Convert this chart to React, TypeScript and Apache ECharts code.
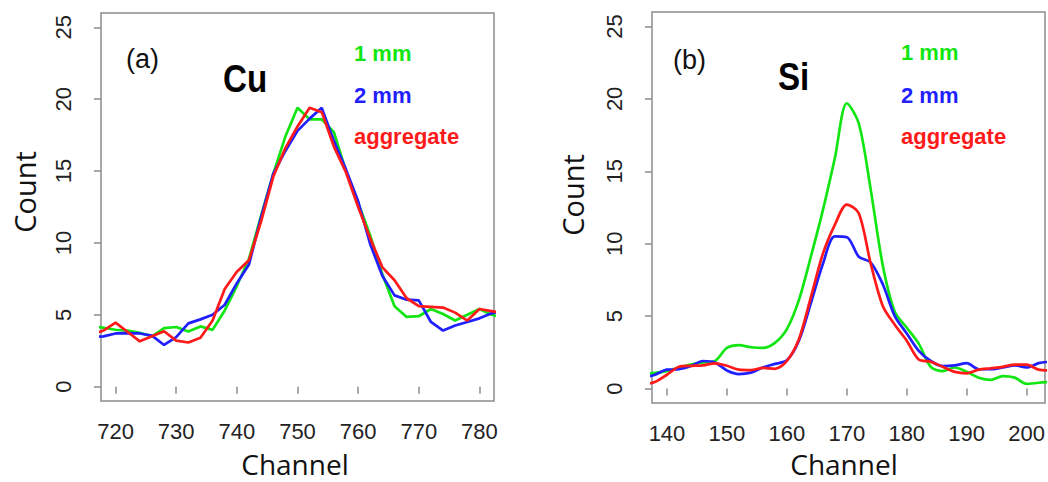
import React, { useEffect, useRef } from "react";
import * as echarts from "echarts";

// ---- Panel (a): Cu ----
const cuChannels = [716, 718, 720, 722, 724, 726, 728, 730, 732, 734, 736, 738, 740, 742, 744, 746, 748, 750, 752, 754, 756, 758, 760, 762, 764, 766, 768, 770, 772, 774, 776, 778, 780, 782, 784];
const cu1mm = [4.2, 4.1, 3.96, 3.9, 3.75, 3.5, 4.07, 4.15, 3.84, 4.19, 3.95, 5.3, 7.0, 8.9, 11.9, 14.8, 17.4, 19.4, 18.6, 18.6, 17.7, 15.0, 12.8, 10.5, 7.8, 5.6, 4.85, 4.9, 5.4, 5.05, 4.6, 5.0, 5.4, 5.0, 4.8];
const cu2mm = [3.45, 3.5, 3.7, 3.72, 3.7, 3.55, 2.9, 3.45, 4.4, 4.68, 5.0, 5.7, 7.2, 8.5, 11.8, 14.8, 16.4, 17.8, 18.65, 19.4, 17.1, 15.1, 12.9, 9.9, 7.7, 6.35, 6.05, 6.0, 4.5, 3.9, 4.25, 4.5, 4.75, 5.1, 5.3];
const cuAggregate = [3.6, 3.9, 4.45, 3.8, 3.15, 3.5, 3.85, 3.2, 3.07, 3.4, 4.6, 6.8, 8.0, 8.8, 11.5, 14.6, 16.6, 18.1, 19.4, 19.1, 16.7, 14.9, 12.5, 10.3, 8.3, 7.4, 6.15, 5.6, 5.55, 5.5, 5.15, 4.6, 5.4, 5.25, 5.1];
const cuTicks = [720, 730, 740, 750, 760, 770, 780];

// ---- Panel (b): Si ----
const siChannels = [136, 138, 140, 142, 144, 146, 148, 150, 152, 154, 156, 158, 160, 162, 164, 166, 168, 170, 172, 174, 176, 178, 180, 182, 184, 186, 188, 190, 192, 194, 196, 198, 200, 202, 204];
const si1mm = [1.0, 1.08, 1.2, 1.45, 1.66, 1.8, 1.9, 2.8, 2.99, 2.85, 2.8, 3.15, 4.1, 6.1, 9.1, 12.3, 15.9, 19.7, 18.3, 13.7, 8.5, 5.3, 4.2, 3.1, 1.5, 1.2, 1.45, 1.15, 0.75, 0.6, 0.85, 0.75, 0.32, 0.4, 0.45];
const si2mm = [0.75, 0.95, 1.3, 1.33, 1.55, 1.9, 1.8, 1.25, 1.0, 1.1, 1.45, 1.7, 1.95, 3.3, 5.9, 8.6, 10.5, 10.45, 9.1, 8.7, 7.2, 5.0, 3.8, 2.6, 1.9, 1.55, 1.6, 1.75, 1.33, 1.33, 1.45, 1.6, 1.45, 1.75, 1.85];
const siAggregate = [0.3, 0.45, 0.95, 1.5, 1.57, 1.6, 1.74, 1.57, 1.3, 1.27, 1.42, 1.36, 1.9, 3.4, 6.3, 9.3, 11.3, 12.7, 12.1, 8.6, 5.7, 4.4, 3.3, 2.0, 1.85, 1.5, 1.15, 1.05, 1.3, 1.4, 1.5, 1.65, 1.65, 1.3, 1.25];
const siTicks = [140, 150, 160, 170, 180, 190, 200];

const countTicks = [0, 5, 10, 15, 20, 25];
const seriesNames = ["1 mm", "2 mm", "aggregate"];

const GREEN = "#12e612";
const BLUE = "#1f1fff";
const RED = "#ff1a1a";
const BOX = "#8c8c8c";
const TICKFONT = "'Liberation Sans', Arial, sans-serif";
const TITLEFONT = "'Open Sans', 'Noto Sans', sans-serif";
const ELEMFONT = "'Liberation Sans Narrow', 'Liberation Sans', Arial, sans-serif";

function pairs(xs: number[], ys: number[]) {
  return xs.map((x, i) => [x, ys[i]]);
}

function xAxisCfg(gridIndex: number, min: number, max: number, ticks: number[]) {
  return {
    type: "value",
    gridIndex,
    min,
    max,
    axisLine: { show: false },
    axisTick: { show: true, inside: false, length: 7, customValues: ticks, lineStyle: { color: BOX, width: 1.5 } },
    axisLabel: { show: true, customValues: ticks, margin: 19, fontSize: 22, color: "#222", fontFamily: TICKFONT },
    splitLine: { show: false },
  };
}

function yAxisCfg(gridIndex: number) {
  return {
    type: "value",
    gridIndex,
    min: -1,
    max: 26,
    axisLine: { show: false },
    axisTick: { show: true, inside: false, length: 7, customValues: countTicks, lineStyle: { color: BOX, width: 1.5 } },
    axisLabel: { show: true, customValues: countTicks, rotate: 90, margin: 27, fontSize: 22, color: "#222", fontFamily: TICKFONT },
    splitLine: { show: false },
  };
}

function lineSeries(name: string, xIdx: number, data: number[][], color: string, smooth: number | boolean) {
  return {
    type: "line",
    name,
    xAxisIndex: xIdx,
    yAxisIndex: xIdx,
    data,
    showSymbol: false,
    smooth,
    clip: true,
    lineStyle: { color, width: 2.7 },
    itemStyle: { color },
  };
}

function label(text: string, x: number, y: number, color: string, size: number, weight: string, family: string, extra: any = {}) {
  const { align, ...rest } = extra;
  return {
    type: "text",
    x,
    y,
    ...rest,
    style: { text, fill: color, fontSize: size, lineHeight: size, fontWeight: weight, fontFamily: family, textAlign: align || "left", textVerticalAlign: "middle" },
  };
}

export default function App() {
  const ref = useRef<HTMLDivElement>(null);
  useEffect(() => {
    document.body.style.margin = "0";
    const chart = echarts.init(ref.current!, null, { renderer: "svg" });
    const legendFont = TICKFONT;
    chart.setOption({
      animation: false,
      backgroundColor: "#ffffff",
      grid: [
        { left: 101, top: 13, width: 393, height: 388, show: true, borderColor: BOX, borderWidth: 1.5, backgroundColor: "transparent" },
        { left: 652, top: 12, width: 396, height: 391, show: true, borderColor: BOX, borderWidth: 1.5, backgroundColor: "transparent" },
      ],
      xAxis: [xAxisCfg(0, 717.6, 782.4, cuTicks), xAxisCfg(1, 137.5, 203.06, siTicks)],
      yAxis: [yAxisCfg(0), yAxisCfg(1)],
      series: [
        lineSeries(seriesNames[0], 0, pairs(cuChannels, cu1mm), GREEN, false),
        lineSeries(seriesNames[1], 0, pairs(cuChannels, cu2mm), BLUE, false),
        lineSeries(seriesNames[2], 0, pairs(cuChannels, cuAggregate), RED, false),
        lineSeries(seriesNames[0], 1, pairs(siChannels, si1mm), GREEN, 0.3),
        lineSeries(seriesNames[1], 1, pairs(siChannels, si2mm), BLUE, 0.3),
        lineSeries(seriesNames[2], 1, pairs(siChannels, siAggregate), RED, 0.3),
      ],
      graphic: [
        label("Count", 24, 192, "#111", 29, "normal", TITLEFONT, { rotation: Math.PI / 2, align: "center" }),
        label("Channel", 295, 464, "#111", 28, "normal", TITLEFONT, { align: "center" }),
        label("Count", 572, 195, "#111", 29, "normal", TITLEFONT, { rotation: Math.PI / 2, align: "center" }),
        label("Channel", 844, 464, "#111", 28, "normal", TITLEFONT, { align: "center" }),
        label("(a)", 126, 59, "#111", 27, "normal", TICKFONT),
        label("Cu", 223, 79, "#000", 39, "bold", ELEMFONT, { scaleX: 0.85 }),
        label(seriesNames[0], 354, 53, GREEN, 22, "bold", legendFont),
        label(seriesNames[1], 354, 95.5, BLUE, 22, "bold", legendFont),
        label(seriesNames[2], 354, 136, RED, 22, "bold", legendFont),
        label("(b)", 673, 60, "#111", 27, "normal", TICKFONT),
        label("Si", 778, 77, "#000", 39, "bold", ELEMFONT, { scaleX: 0.85 }),
        label(seriesNames[0], 901, 52, GREEN, 22, "bold", legendFont),
        label(seriesNames[1], 901, 95, BLUE, 22, "bold", legendFont),
        label(seriesNames[2], 901, 136, RED, 22, "bold", legendFont),
      ],
    });
    return () => chart.dispose();
  }, []);
  return <div ref={ref} style={{ position: "fixed", left: 0, top: 0, width: 1048, height: 482 }} />;
}
